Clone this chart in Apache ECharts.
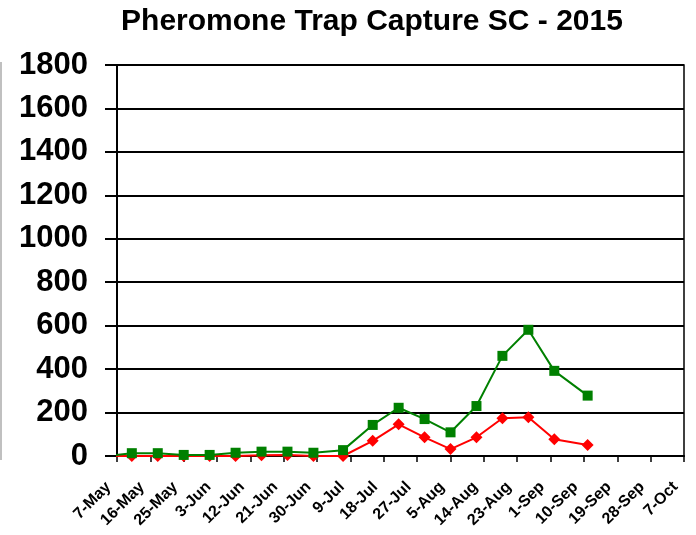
<!DOCTYPE html>
<html><head><meta charset="utf-8">
<script src="https://cdn.jsdelivr.net/npm/echarts@6/dist/echarts.min.js"></script>
<style>html,body{margin:0;padding:0;background:#fff}#c{width:696px;height:535px}</style>
</head><body><div id="c"></div>
<script>
const titleText = 'Pheromone Trap Capture SC - 2015';
const startDate = '2015-05-07';
const tickLabels = ['7-May','16-May','25-May','3-Jun','12-Jun','21-Jun','30-Jun','9-Jul','18-Jul','27-Jul','5-Aug','14-Aug','23-Aug','1-Sep','10-Sep','19-Sep','28-Sep','7-Oct'];
const yTicks = [0,200,400,600,800,1000,1200,1400,1600,1800];
const sampleDates = ['2015-05-04','2015-05-11','2015-05-18','2015-05-25','2015-06-01','2015-06-08','2015-06-15','2015-06-22','2015-06-29','2015-07-07','2015-07-15','2015-07-22','2015-07-29','2015-08-05','2015-08-12','2015-08-19','2015-08-26','2015-09-02','2015-09-11'];
const greenValues = [0,13,13,5,5,15,20,20,15,27,143,222,170,109,230,461,581,392,278];
const redValues   = [0,0,0,0,0,0,3,5,0,0,70,146,86,32,86,174,178,77,51];

const DAY = 86400000;
const t0 = Date.parse(startDate + 'T00:00:00Z');
const dayOf = d => Math.round((Date.parse(d + 'T00:00:00Z') - t0) / DAY);
const greenData = sampleDates.map((d,i)=>[dayOf(d), greenValues[i]]);
const redData = sampleDates.map((d,i)=>[dayOf(d), redValues[i]]);
const TICK = 9;

const chart = echarts.init(document.getElementById('c'), null, {renderer:'canvas'});
chart.setOption({
  animation:false,
  backgroundColor:'#fff',
  title:{text:titleText,left:367,top:2,textAlign:'center',
    textStyle:{fontFamily:'Liberation Sans, Arial',fontWeight:'bold',fontSize:30,color:'#000'}},
  grid:{left:117,right:12,top:65,bottom:79,show:true,borderColor:'#000',borderWidth:1.5,backgroundColor:'transparent'},
  graphic:[{type:'line',shape:{x1:1,y1:62,x2:1,y2:460},style:{stroke:'#c0c0c0',lineWidth:2}}],
  xAxis:{type:'value',min:0,max:(tickLabels.length-1)*TICK,interval:TICK,
    axisLine:{lineStyle:{color:'#000',width:2}},
    axisTick:{show:true,length:6,lineStyle:{color:'#000',width:1.5}},
    splitLine:{show:false},
    axisLabel:{rotate:45,margin:20,padding:[0,12,0,0],fontFamily:'Liberation Sans, Arial',fontWeight:'bold',fontSize:16,color:'#000',
      formatter:v=>tickLabels[Math.round(v/TICK)]}},
  yAxis:{type:'value',min:yTicks[0],max:yTicks[yTicks.length-1],interval:yTicks[1]-yTicks[0],
    axisLine:{show:true,lineStyle:{color:'#000',width:2}},
    axisTick:{show:true,length:12,lineStyle:{color:'#000',width:2}},
    splitLine:{show:true,lineStyle:{color:'#000',width:2}},
    axisLabel:{margin:29,fontFamily:'Liberation Sans, Arial',fontWeight:'bold',fontSize:31,color:'#000',
      formatter:v=>String(v)}},
  series:[
    {type:'line',data:redData,clip:true,symbol:'diamond',symbolSize:12,
      lineStyle:{color:'#ff0000',width:2},itemStyle:{color:'#ff0000'},z:2},
    {type:'line',data:greenData,clip:true,symbol:'rect',symbolSize:10,
      lineStyle:{color:'#008000',width:2},itemStyle:{color:'#008000'},z:3}
  ]
});
</script></body></html>
